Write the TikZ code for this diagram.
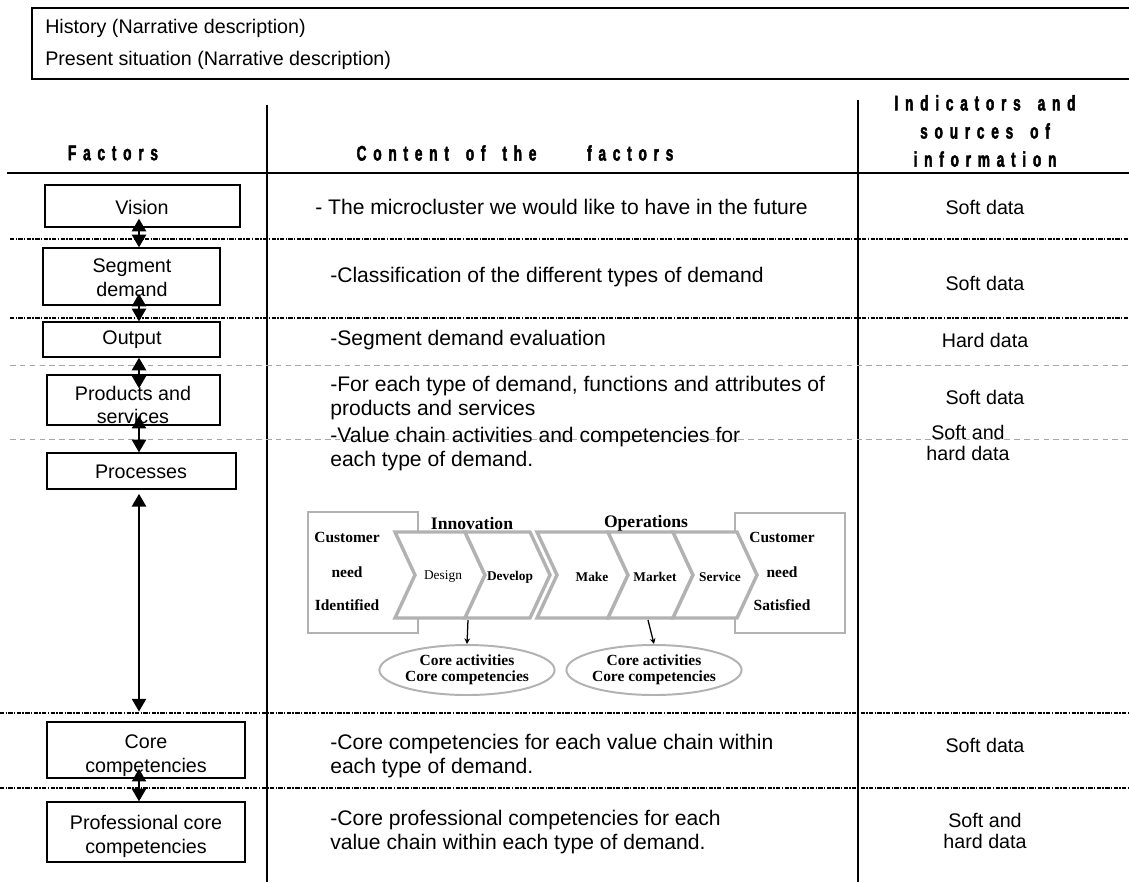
\documentclass[tikz,border=0pt]{standalone}
\usepackage{fontspec}
\setmainfont{Liberation Sans}
\newfontfamily\hdrfont{Liberation Sans Bold}[LetterSpace=32,FakeStretch=0.65,FakeBold=2,WordSpace=1.6]
\newfontfamily\chainfont{Liberation Serif}
\usetikzlibrary{arrows.meta, positioning, calc, shapes.geometric}
\tikzset{
    factor/.style={draw=black, line width=0.9pt, inner sep=0pt},
    factortxt/.style={align=center, inner sep=0pt, font=\fontsize{14}{17}\selectfont},
    content/.style={anchor=west, align=left, inner sep=0pt, font=\fontsize{15}{16.5}\selectfont},
    source/.style={align=center, inner sep=0pt, font=\fontsize{14}{14.5}\selectfont},
    header/.style={align=center, inner sep=0pt, font=\hdrfont\fontsize{15}{20}\selectfont},
    link/.style={{Triangle[width=10pt,length=9pt]}-{Triangle[width=10pt,length=9pt]}, line width=1.5pt},
    solidsep/.style={line width=1.1pt},
    darksep/.style={line width=0.9pt, dash pattern=on 3pt off 1pt on 1pt off 1pt},
    lightsep/.style={gray!70, line width=0.5pt, dash pattern=on 4pt off 3pt}
}

\begin{document}
\begin{tikzpicture}[
  x=0.025cm, y=-0.025cm,
  chev/.style={draw=gray!60, line width=2.4pt, fill=white, line join=miter},
  chainbox/.style={draw=gray!60, line width=1.8pt, fill=white},
  chaintxt/.style={inner sep=0pt, font=\chainfont\bfseries\fontsize{11}{12}\selectfont},
  steptxt/.style={inner sep=0pt, font=\chainfont\fontsize{9.5}{11}\selectfont},
  core/.style={ellipse, draw=gray!60, line width=1.4pt, fill=white, inner sep=0pt,
    minimum width=4cm, minimum height=1.25cm, align=center,
    font=\chainfont\bfseries\fontsize{11}{11.5}\selectfont},
  small/.style={-{Stealth[length=4pt,width=4pt]}, line width=0.9pt}
]
\useasboundingbox (0,0) rectangle (1129,882);

% Top frame
\draw[line width=1pt] (1129,8) -- (32,8) -- (32,79) -- (1129,79);
\node[content, font=\fontsize{14}{16}\selectfont] (hist) at (45,28) {History (Narrative description)};
\node[content, font=\fontsize{14}{16}\selectfont] (pres) at (45,60) {Present situation (Narrative description)};

% Column rules
\draw[solidsep] (267,105) -- (267,882);
\draw[solidsep] (858,100) -- (858,882);
\draw[solidsep] (7,173) -- (1129,173);

% Headers
\node[header] (hfac) at (113,153) {Factors};
\node[header] (hcon) at (515,153) {Content of the\ \ \ factors};
\node[header] (hind) at (985,131) {Indicators and\\sources of\\information};

% Row separators
\draw[darksep] (10,239) -- (1129,239);
\draw[darksep] (10,318) -- (1129,318);
\draw[lightsep] (10,365) -- (1129,365);
\draw[lightsep] (10,439) -- (1129,439);
\draw[darksep] (0,713) -- (1129,713);
\draw[darksep] (0,788) -- (1129,788);

% Factor boxes
\node[factor, minimum width=4.875cm, minimum height=1.05cm] (vision) at (142.5,206) {};
\node[factor, minimum width=4.425cm, minimum height=1.425cm] (segment) at (131.5,276.5) {};
\node[factor, minimum width=4.425cm, minimum height=0.875cm] (output) at (131.5,339.5) {};
\node[factor, minimum width=4.325cm, minimum height=1.25cm] (products) at (133.5,400) {};
\node[factor, minimum width=4.725cm, minimum height=0.9cm] (processes) at (141.5,471) {};
\node[factor, minimum width=4.95cm, minimum height=1.4cm] (corecomp) at (146,750) {};
\node[factor, minimum width=4.95cm, minimum height=1.5cm] (profcomp) at (146,832) {};

\node[factortxt] (visiont) at (142,207) {Vision};
\node[factortxt] (segmentt) at (132,278) {Segment\\demand};
\node[factortxt] (outputt) at (132,340) {Output};
\node[factortxt] (productst) at (133,405) {Products and\\services};
\node[factortxt] (processest) at (141,472) {Processes};
\node[factortxt] (corecompt) at (146,756) {Core\\competencies};
\node[factortxt] (profcompt) at (146,836) {Professional core\\competencies};

% Links between factors
\coordinate (axis) at (139,0);
\draw[link, shorten <=-6.4pt] (vision.south -| axis) -- (segment.north -| axis);
\draw[link, shorten <=-8.5pt] (segment.south -| axis) -- (output.north -| axis);
\draw[link, shorten >=-10pt] (output.south -| axis) -- (products.north -| axis);
\draw[link, shorten <=-7pt] (products.south -| axis) -- (processes.north -| axis);
\draw[link, shorten <=3pt, shorten >=7pt] (processes.south -| axis) -- (corecomp.north -| axis);
\draw[link, shorten <=-7pt] (corecomp.south -| axis) -- (profcomp.north -| axis);

% Content of the factors
\node[content] (cvision) at (315,207) {- The microcluster we would like to have in the future};
\node[content] (csegment) at (330,277) {-Classification of the different types of demand};
\node[content] (coutput) at (330,340) {-Segment demand evaluation};
\node[content] (cproducts) at (330,398) {-For each type of demand, functions and attributes of\\products and services};
\node[content] (cprocesses) at (330,449) {-Value chain activities and competencies for\\each type of demand.};
\node[content] (ccore) at (330,756) {-Core competencies for each value chain within\\each type of demand.};
\node[content] (cprof) at (330,832) {-Core professional competencies for each\\value chain within each type of demand.};

% Sources
\node[source] (svision) at (985,207) {Soft data};
\node[source] (ssegment) at (985,283) {Soft data};
\node[source] (soutput) at (985,340) {Hard data};
\node[source] (sproducts) at (985,397) {Soft data};
\node[source] (sprocesses) at (968,443) {Soft and\\hard data};
\node[source] (score) at (985,745) {Soft data};
\node[source] (sprof) at (985,831) {Soft and\\hard data};

% Value chain
\draw[chainbox] (308,512) rectangle (418,633);
\draw[chainbox] (735,513) rectangle (845,633);
\node[chaintxt] (cni) at (347,537) {Customer};
\node[chaintxt] (cni2) at (347,572) {need};
\node[chaintxt] (cni3) at (347,605) {Identified};
\node[chaintxt] (cns) at (782,537) {Customer};
\node[chaintxt] (cns2) at (782,572) {need};
\node[chaintxt] (cns3) at (782,605) {Satisfied};

\foreach \l/\r in {395/465, 465/530, 537/608, 608/673, 673/737}
  \draw[chev] (\l,532) -- (\r,532) -- (\r+20,575) -- (\r,618) -- (\l,618) -- (\l+20,575) -- cycle;

\node[chaintxt, font=\chainfont\bfseries\fontsize{12.5}{13}\selectfont] (innov) at (472,523) {Innovation};
\node[chaintxt, font=\chainfont\bfseries\fontsize{12.5}{13}\selectfont] (oper) at (646,523) {Operations};
\node[steptxt] (design) at (443,577) {Design};
\node[chaintxt, font=\chainfont\bfseries\fontsize{9.5}{11}\selectfont] (develop) at (510,577) {Develop};
\node[chaintxt, font=\chainfont\bfseries\fontsize{9.5}{11}\selectfont] (make) at (592,577) {Make};
\node[chaintxt, font=\chainfont\bfseries\fontsize{9.5}{11}\selectfont] (market) at (655,577) {Market};
\node[chaintxt, font=\chainfont\bfseries\fontsize{9.5}{11}\selectfont] (service) at (720,577) {Service};

\node[core] (core1) at (467,670) {Core activities\\Core competencies};
\node[core] (core2) at (654,670) {Core activities\\Core competencies};

\coordinate (innovout) at (468,620);
\coordinate (operout) at (648,620);
\draw[small] (innovout) -- (core1.north);
\draw[small] (operout) -- (core2.north);
\end{tikzpicture}
\end{document}
